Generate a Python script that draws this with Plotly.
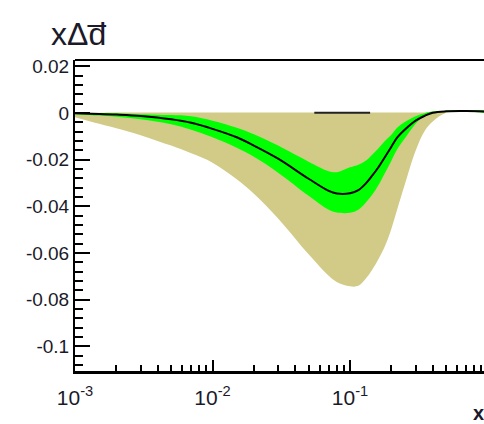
import plotly.graph_objects as go

# momentum fraction grid
x_vals = [0.001, 0.0015, 0.002, 0.003, 0.005, 0.007, 0.01, 0.015, 0.02, 0.03,
          0.05, 0.07, 0.08, 0.1, 0.115, 0.13, 0.145, 0.16, 0.18, 0.2, 0.22,
          0.25, 0.3, 0.35, 0.4, 0.5, 0.7, 1.0]

# central fit x*Delta dbar
central = [-0.0001, -0.0004, -0.0007, -0.0013, -0.0027, -0.0042, -0.0068,
           -0.0104, -0.0140, -0.0196, -0.0282, -0.0334, -0.0345, -0.0344,
           -0.0331, -0.0303, -0.0269, -0.0235, -0.0188, -0.0145, -0.0106,
           -0.0072, -0.0033, -0.0012, 0.0001, 0.0007, 0.0008, 0.0006]

# inner (green) uncertainty band
inner_hi = [0.0, -0.0001, -0.0002, -0.0005, -0.0009, -0.0014, -0.0033,
            -0.0063, -0.0091, -0.0140, -0.0209, -0.0250, -0.0254, -0.0233,
            -0.0222, -0.0205, -0.0179, -0.0153, -0.0119, -0.0093, -0.0063,
            -0.0039, -0.0014, -0.0001, 0.0006, 0.0010, 0.0010, 0.0008]
inner_lo = [-0.0005, -0.0011, -0.0016, -0.0027, -0.0048, -0.0072, -0.0104,
            -0.0149, -0.0188, -0.0256, -0.0355, -0.0415, -0.0427, -0.0428,
            -0.0415, -0.0385, -0.0351, -0.0312, -0.0256, -0.0205, -0.0157,
            -0.0110, -0.0046, -0.0012, 0.0001, 0.0006, 0.0006, 0.0003]

# outer (khaki) uncertainty band
outer_hi = [0.0, 0.0001, 0.0002, 0.0002, 0.0002, 0.0002, 0.0002, 0.0002,
            0.0002, 0.0002, 0.0002, 0.0002, 0.0002, 0.0002, 0.0002, 0.0002,
            0.0002, 0.0002, 0.0002, 0.0002, 0.0002, 0.0002, 0.0002, 0.0002,
            0.0006, 0.0010, 0.0010, 0.0008]
outer_lo = [-0.0018, -0.0046, -0.0065, -0.0095, -0.0140, -0.0173, -0.0213,
            -0.0284, -0.0346, -0.0452, -0.0606, -0.0698, -0.0724, -0.0743,
            -0.0741, -0.0711, -0.0672, -0.0629, -0.0569, -0.0496, -0.0415,
            -0.0308, -0.0162, -0.0076, -0.0037, 0.0001, 0.0006, 0.0003]

# upper edge of the outer band, outlined where it is drawn
edge_x = [0.055, 0.07, 0.09, 0.11, 0.14]
edge_y = [0.0001, 0.0001, 0.0001, 0.0001, 0.0001]

y_major = [0.02, 0.0, -0.02, -0.04, -0.06, -0.08, -0.1]
y_labels = ["0.02", "0", "-0.02", "-0.04", "-0.06", "-0.08", "-0.1"]
x_major = [0.001, 0.01, 0.1]
x_labels = ["10<sup>-3</sup>", "10<sup>-2</sup>", "10<sup>-1</sup>"]

x_minor = [m * d for d in (0.001, 0.01, 0.1) for m in range(2, 10)]
y_minor = [round(-0.108 + 0.004 * i, 3) for i in range(33)]

KHAKI = "#D2CB87"
GREEN = "#00FF00"
FONT = "Liberation Sans, Arial, sans-serif"
INK = "#1a1a2a"

fig = go.Figure()

fig.add_trace(go.Scatter(
    x=x_vals + x_vals[::-1], y=outer_hi + outer_lo[::-1],
    fill="toself", fillcolor=KHAKI, line=dict(width=0, shape="spline", smoothing=1.0),
    mode="lines", hoverinfo="skip", showlegend=False))
fig.add_trace(go.Scatter(
    x=x_vals + x_vals[::-1], y=inner_hi + inner_lo[::-1],
    fill="toself", fillcolor=GREEN, line=dict(width=0, shape="spline", smoothing=1.0),
    mode="lines", hoverinfo="skip", showlegend=False))
fig.add_trace(go.Scatter(
    x=edge_x, y=edge_y, mode="lines",
    line=dict(color="#222", width=2), showlegend=False))
fig.add_trace(go.Scatter(
    x=x_vals, y=central, mode="lines",
    line=dict(color="black", width=2, shape="spline", smoothing=1.0),
    showlegend=False))

fig.update_xaxes(
    type="log", range=[-3, -0.0255],
    showgrid=False, zeroline=False,
    showline=True, linecolor="black", linewidth=2.5, mirror=False,
    ticks="inside", ticklen=11, tickwidth=1.5, tickcolor="black",
    tickvals=x_major, ticktext=x_labels, ticklabelstandoff=6,
    tickfont=dict(family=FONT, size=21, color=INK),
    minor=dict(ticks="inside", ticklen=6, tickwidth=1.5, tickcolor="black",
               tickvals=x_minor, showgrid=False),
)
fig.update_yaxes(
    range=[-0.1106, 0.0227],
    showgrid=False, zeroline=False,
    showline=True, linecolor="black", linewidth=2, mirror=False,
    ticks="inside", ticklen=15, tickwidth=1.5, tickcolor="black",
    tickvals=y_major, ticktext=y_labels,
    tickfont=dict(family=FONT, size=19, color=INK),
    minor=dict(ticks="inside", ticklen=8, tickwidth=1.5, tickcolor="black",
               tickvals=y_minor, showgrid=False),
)

# top frame line
fig.add_shape(type="line", xref="paper", yref="paper", x0=0, x1=1, y0=1, y1=1,
              line=dict(color="black", width=2))

fig.add_annotation(
    text="xΔd\u0305", xref="paper", yref="paper", x=-0.064, y=1.018,
    xanchor="left", yanchor="bottom", showarrow=False,
    font=dict(family=FONT, size=32, color=INK))
fig.add_annotation(
    text="<b>x</b>", xref="paper", yref="paper", x=0.968, y=-0.135,
    xanchor="left", yanchor="middle", showarrow=False,
    font=dict(family=FONT, size=20, color=INK))

fig.update_layout(
    width=484, height=424,
    margin=dict(l=75, r=0, t=60, b=53),
    paper_bgcolor="white", plot_bgcolor="white",
    showlegend=False,
)

fig.write_html("out.html")
